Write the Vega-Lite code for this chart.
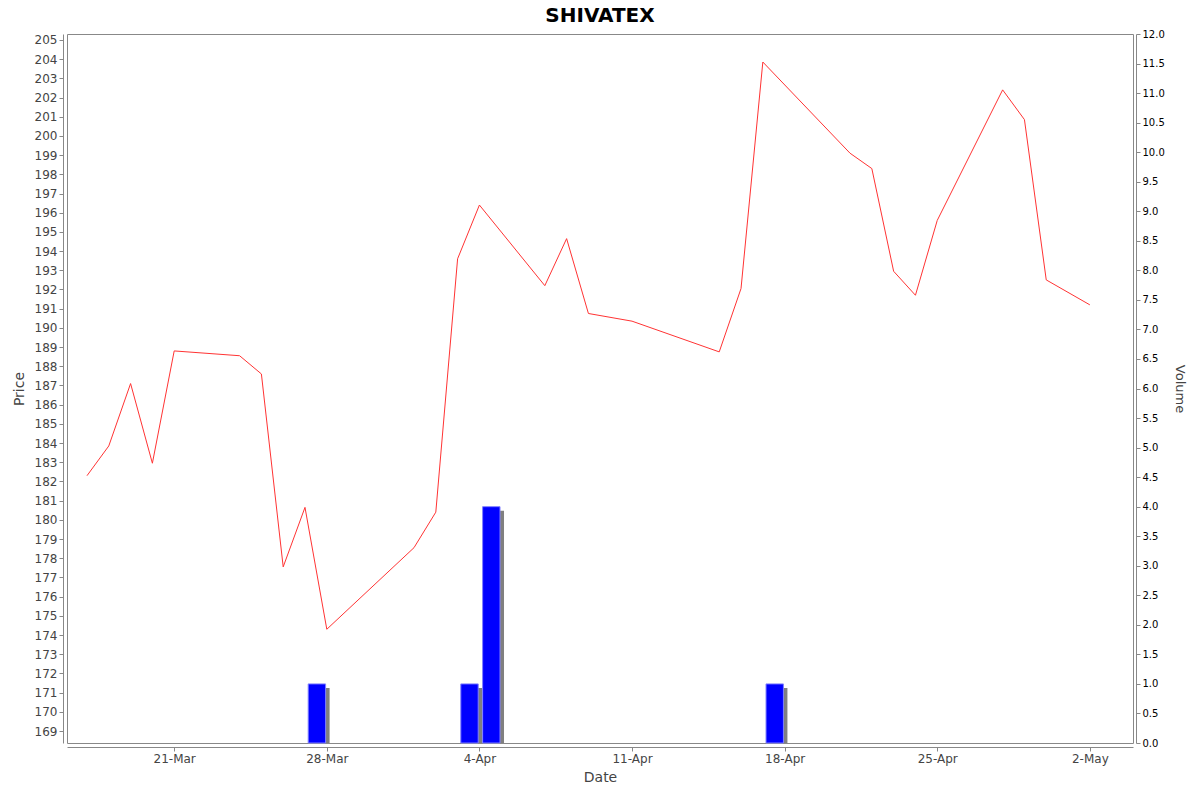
{
  "$schema": "https://vega.github.io/schema/vega-lite/v6.json",
  "autosize": {"type": "none"},
  "padding": {"left": 67, "top": 34, "right": 67, "bottom": 49},
  "width": 1066,
  "height": 709,
  "background": "white",
  "title": {"text": "SHIVATEX", "anchor": "middle", "frame": "group", "font": "DejaVu Sans", "fontSize": 20, "fontWeight": "bold", "color": "#000000", "offset": 3},
  "config": {
    "view": {"stroke": "#888888", "strokeWidth": 1},
    "axis": {"grid": false, "domainColor": "#888888", "tickColor": "#888888", "labelFont": "DejaVu Sans", "titleFont": "DejaVu Sans", "labelColor": "#444444", "titleColor": "#444444", "titleFontWeight": "normal", "tickSize": 4}
  },
  "datasets": {
    "rows": [
      {"date": "2025/03/17", "close": 182.3, "volume": 0},
      {"date": "2025/03/18", "close": 183.85, "volume": 0},
      {"date": "2025/03/19", "close": 187.1, "volume": 0},
      {"date": "2025/03/20", "close": 182.95, "volume": 0},
      {"date": "2025/03/21", "close": 188.8, "volume": 0},
      {"date": "2025/03/24", "close": 188.55, "volume": 0},
      {"date": "2025/03/25", "close": 187.6, "volume": 0},
      {"date": "2025/03/26", "close": 177.55, "volume": 0},
      {"date": "2025/03/27", "close": 180.65, "volume": 1},
      {"date": "2025/03/28", "close": 174.3, "volume": 0},
      {"date": "2025/04/01", "close": 178.55, "volume": 0},
      {"date": "2025/04/02", "close": 180.4, "volume": 0},
      {"date": "2025/04/03", "close": 193.6, "volume": 1},
      {"date": "2025/04/04", "close": 196.4, "volume": 4},
      {"date": "2025/04/07", "close": 192.2, "volume": 0},
      {"date": "2025/04/08", "close": 194.65, "volume": 0},
      {"date": "2025/04/09", "close": 190.75, "volume": 0},
      {"date": "2025/04/11", "close": 190.35, "volume": 0},
      {"date": "2025/04/15", "close": 188.75, "volume": 0},
      {"date": "2025/04/16", "close": 192.05, "volume": 0},
      {"date": "2025/04/17", "close": 203.85, "volume": 1},
      {"date": "2025/04/21", "close": 199.1, "volume": 0},
      {"date": "2025/04/22", "close": 198.3, "volume": 0},
      {"date": "2025/04/23", "close": 192.95, "volume": 0},
      {"date": "2025/04/24", "close": 191.7, "volume": 0},
      {"date": "2025/04/25", "close": 195.6, "volume": 0},
      {"date": "2025/04/28", "close": 202.4, "volume": 0},
      {"date": "2025/04/29", "close": 200.85, "volume": 0},
      {"date": "2025/04/30", "close": 192.5, "volume": 0},
      {"date": "2025/05/02", "close": 191.2, "volume": 0}
    ]
  },
  "data": {"name": "rows"},
  "layer": [
    {
      "transform": [{"filter": "datum.volume > 0"}],
      "mark": {"type": "bar", "color": "#808080", "xOffset": 4.5, "yOffset": 4, "clip": true, "binSpacing": 4.4},
      "encoding": {
        "x": {"field": "date", "type": "temporal", "timeUnit": "yearmonthdate",
              "scale": {"domain": [{"year": 2025, "month": 3, "date": 16, "hours": 2}, {"year": 2025, "month": 5, "date": 3, "hours": 23, "minutes": 30}]},
              "axis": {"title": "Date", "offset": 4, "format": "%-d-%b", "labelFontSize": 12, "titleFontSize": 14, "titlePadding": 6,
                       "values": [{"year": 2025, "month": 3, "date": 21}, {"year": 2025, "month": 3, "date": 28}, {"year": 2025, "month": 4, "date": 4}, {"year": 2025, "month": 4, "date": 11}, {"year": 2025, "month": 4, "date": 18}, {"year": 2025, "month": 4, "date": 25}, {"year": 2025, "month": 5, "date": 2}]}},
        "y": {"field": "volume", "type": "quantitative", "scale": {"domain": [0, 12]}, "axis": null}
      }
    },
    {
      "transform": [{"filter": "datum.volume > 0"}],
      "mark": {"type": "bar", "color": "#0000ff", "stroke": "#8080ff", "strokeWidth": 1, "xOffset": 0.5, "binSpacing": 4.4},
      "encoding": {
        "x": {"field": "date", "type": "temporal", "timeUnit": "yearmonthdate"},
        "y": {"field": "volume", "type": "quantitative", "scale": {"domain": [0, 12]},
              "axis": {"orient": "right", "title": "Volume", "offset": 3, "values": [0, 0.5, 1, 1.5, 2, 2.5, 3, 3.5, 4, 4.5, 5, 5.5, 6, 6.5, 7, 7.5, 8, 8.5, 9, 9.5, 10, 10.5, 11, 11.5, 12], "format": ".1f", "labelFontSize": 10, "labelColor": "#000000", "titleFontSize": 13, "titlePadding": 8}}
      }
    },
    {
      "mark": {"type": "line", "color": "#ff3333", "strokeWidth": 1},
      "encoding": {
        "x": {"field": "date", "type": "temporal"},
        "y": {"field": "close", "type": "quantitative", "scale": {"domain": [168.375, 205.31], "nice": false, "zero": false},
              "axis": {"orient": "left", "title": "Price", "offset": 4, "values": [169, 170, 171, 172, 173, 174, 175, 176, 177, 178, 179, 180, 181, 182, 183, 184, 185, 186, 187, 188, 189, 190, 191, 192, 193, 194, 195, 196, 197, 198, 199, 200, 201, 202, 203, 204, 205], "labelFontSize": 12, "titleFontSize": 14, "titlePadding": 8}}
      }
    }
  ],
  "resolve": {"scale": {"y": "independent"}}
}
